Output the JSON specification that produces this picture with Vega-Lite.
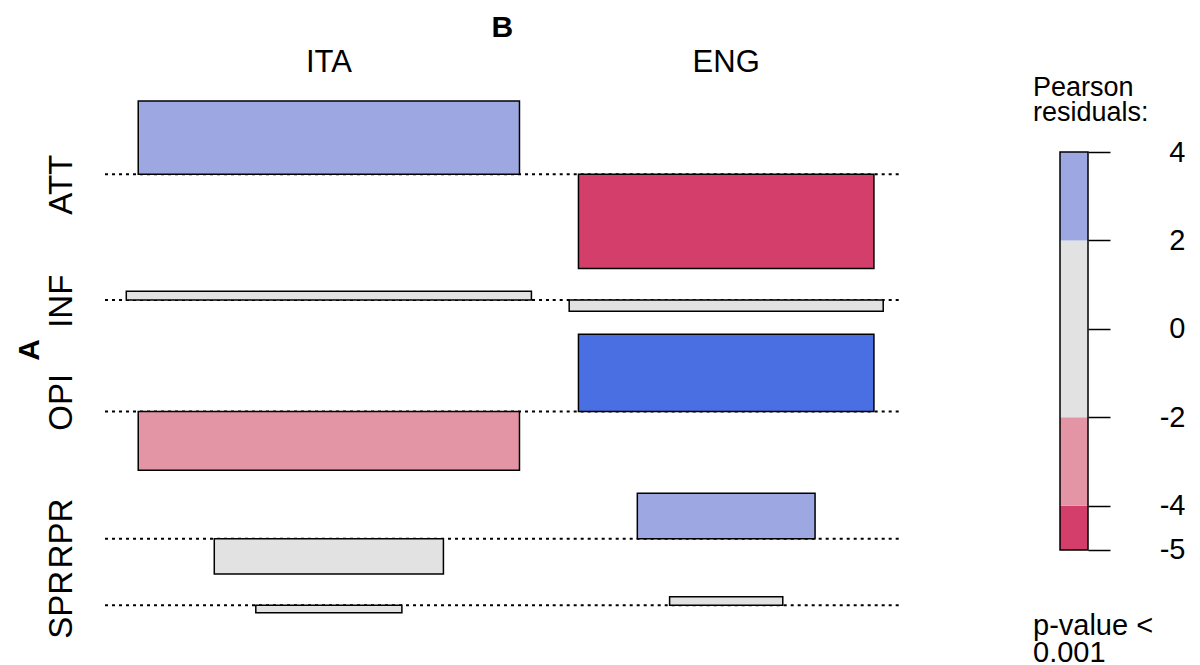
{
  "$schema": "https://vega.github.io/schema/vega-lite/v6.json",
  "padding": 0,
  "autosize": {"type": "pad"},
  "bounds": "flush",
  "spacing": 60,
  "config": {"view": {"stroke": null}, "font": "Liberation Sans"},
  "hconcat": [
    {
      "width": 1000,
      "height": 665,
      "data": {
        "values": [
          {"A": "ATT", "ai": 1, "B": "ITA", "bi": 1, "residual": 3.86, "expected": 68.1},
          {"A": "ATT", "ai": 1, "B": "ENG", "bi": 2, "residual": -4.95, "expected": 40.9},
          {"A": "INF", "ai": 2, "B": "ITA", "bi": 1, "residual": 0.46, "expected": 76.9},
          {"A": "INF", "ai": 2, "B": "ENG", "bi": 2, "residual": -0.6, "expected": 46.2},
          {"A": "OPI", "ai": 3, "B": "ITA", "bi": 1, "residual": -3.1, "expected": 68.1},
          {"A": "OPI", "ai": 3, "B": "ENG", "bi": 2, "residual": 4.07, "expected": 40.9},
          {"A": "RPR", "ai": 4, "B": "ITA", "bi": 1, "residual": -1.85, "expected": 24.6},
          {"A": "RPR", "ai": 4, "B": "ENG", "bi": 2, "residual": 2.4, "expected": 14.8},
          {"A": "SPR", "ai": 5, "B": "ITA", "bi": 1, "residual": -0.4, "expected": 10.0},
          {"A": "SPR", "ai": 5, "B": "ENG", "bi": 2, "residual": 0.45, "expected": 6.0}
        ]
      },
      "transform": [
        {"calculate": "sqrt(datum.expected)", "as": "sw"},
        {"joinaggregate": [{"op": "max", "field": "sw", "as": "colMax"}, {"op": "count", "as": "nInCol"}], "groupby": ["B"]},
        {"calculate": "datum.colMax * 1.105", "as": "cellW"},
        {"calculate": "datum.cellW / datum.nInCol", "as": "colShare"},
        {"window": [{"op": "sum", "field": "colShare", "as": "cellEnd"}], "sort": [{"field": "bi", "order": "ascending"}], "frame": [null, 0]},
        {"calculate": "datum.cellEnd - datum.cellW", "as": "cellStart"},
        {"calculate": "datum.cellStart + datum.cellW / 2", "as": "xc"},
        {"calculate": "datum.xc - datum.sw / 2", "as": "x1"},
        {"calculate": "datum.xc + datum.sw / 2", "as": "x2"},
        {"calculate": "max(datum.residual, 0)", "as": "pos"},
        {"calculate": "min(datum.residual, 0)", "as": "neg"},
        {"joinaggregate": [{"op": "max", "field": "pos", "as": "rowMax"}, {"op": "min", "field": "neg", "as": "rowMin"}, {"op": "count", "as": "nInRow"}], "groupby": ["A"]},
        {"calculate": "datum.rowMax - datum.rowMin + 1.2", "as": "rowSpan"},
        {"calculate": "datum.rowSpan / datum.nInRow", "as": "rowShare"},
        {"window": [{"op": "sum", "field": "rowShare", "as": "rowEnd"}], "sort": [{"field": "ai", "order": "ascending"}], "frame": [null, 0]},
        {"calculate": "datum.rowEnd - datum.rowSpan", "as": "rowStart"},
        {"calculate": "-(datum.rowStart + datum.rowMax)", "as": "base"},
        {"calculate": "datum.base + datum.residual", "as": "top"},
        {"calculate": "-(datum.rowStart + (datum.rowMax - datum.rowMin) / 2)", "as": "rowMid"}
      ],
      "layer": [
        {
          "mark": {"type": "rule", "strokeDash": [3, 4], "strokeWidth": 2, "color": "#000000"},
          "encoding": {
            "x": {"field": "cellStart", "type": "quantitative", "scale": {"domain": [-2.273, 19.372], "nice": false, "zero": false}, "axis": null},
            "x2": {"field": "cellEnd"},
            "y": {"field": "base", "type": "quantitative", "scale": {"domain": [-29.684, 5.316], "nice": false, "zero": false}, "axis": null}
          }
        },
        {
          "mark": {"type": "rect", "stroke": "#000000", "strokeWidth": 1.5},
          "encoding": {
            "x": {"field": "x1", "type": "quantitative"},
            "x2": {"field": "x2"},
            "y": {"field": "base", "type": "quantitative"},
            "y2": {"field": "top"},
            "color": {
              "field": "residual",
              "type": "quantitative",
              "scale": {"type": "threshold", "domain": [-4, -2, 2, 4], "range": ["#D33F6A", "#E495A5", "#E2E2E2", "#9DA8E2", "#4A6FE3"]},
              "legend": null
            }
          }
        },
        {
          "transform": [{"filter": "datum.ai == 1"}],
          "mark": {"type": "text", "fontSize": 31, "baseline": "middle", "align": "center", "color": "#000000"},
          "encoding": {
            "x": {"field": "xc", "type": "quantitative"},
            "y": {"datum": 2.0},
            "text": {"field": "B"}
          }
        },
        {
          "transform": [{"filter": "datum.bi == 1"}],
          "mark": {"type": "text", "fontSize": 33, "baseline": "middle", "align": "center", "angle": 270, "color": "#000000"},
          "encoding": {
            "x": {"datum": -0.93},
            "y": {"field": "rowMid", "type": "quantitative"},
            "text": {"field": "A"}
          }
        },
        {
          "transform": [{"filter": "datum.ai == 1 && datum.bi == 1"}],
          "mark": {"type": "text", "fontSize": 30, "fontWeight": "bold", "baseline": "middle", "align": "center", "color": "#000000"},
          "encoding": {
            "x": {"datum": 8.6},
            "y": {"datum": 3.84},
            "text": {"value": "B"}
          }
        },
        {
          "transform": [{"filter": "datum.ai == 1 && datum.bi == 1"}],
          "mark": {"type": "text", "fontSize": 30, "fontWeight": "bold", "baseline": "middle", "align": "center", "angle": 270, "color": "#000000"},
          "encoding": {
            "x": {"datum": -1.62},
            "y": {"datum": -13.1},
            "text": {"value": "A"}
          }
        }
      ]
    },
    {
      "width": 28,
      "height": 665,
      "data": {
        "values": [
          {"from": -5, "to": -4},
          {"from": -4, "to": -2},
          {"from": -2, "to": 2},
          {"from": 2, "to": 4}
        ]
      },
      "layer": [
        {
          "mark": {"type": "rect"},
          "encoding": {
            "x": {"datum": 0, "scale": {"domain": [0, 1], "nice": false, "zero": false}, "axis": null},
            "x2": {"datum": 1},
            "y": {
              "field": "from",
              "type": "quantitative",
              "scale": {"domain": [-7.602, 7.439], "nice": false, "zero": false},
              "axis": {
                "orient": "right",
                "values": [4, 2, 0, -2, -4, -5],
                "labelExpr": "'' + datum.value",
                "domain": false,
                "grid": false,
                "title": null,
                "tickSize": 22,
                "tickWidth": 1.5,
                "tickColor": "#000000",
                "labelFontSize": 29,
                "labelColor": "#000000",
                "labelAlign": "right",
                "labelBaseline": "middle",
                "labelPadding": 75,
                "labelFont": "Liberation Sans"
              }
            },
            "y2": {"field": "to"},
            "color": {
              "field": "from",
              "type": "quantitative",
              "scale": {"type": "threshold", "domain": [-4, -2, 2, 4], "range": ["#D33F6A", "#E495A5", "#E2E2E2", "#9DA8E2", "#4A6FE3"]},
              "legend": null
            }
          }
        },
        {
          "transform": [{"filter": "datum.from == -5"}],
          "mark": {"type": "rect", "fill": null, "fillOpacity": 0, "stroke": "#000000", "strokeWidth": 1.5},
          "encoding": {
            "x": {"datum": 0},
            "x2": {"datum": 1},
            "y": {"datum": -5},
            "y2": {"datum": 4}
          }
        },
        {
          "transform": [{"filter": "datum.from == -5"}],
          "mark": {"type": "text", "fontSize": 27, "align": "left", "baseline": "middle", "color": "#000000"},
          "encoding": {
            "x": {"datum": -0.964},
            "y": {"datum": 5.45},
            "text": {"value": "Pearson"}
          }
        },
        {
          "transform": [{"filter": "datum.from == -5"}],
          "mark": {"type": "text", "fontSize": 27, "align": "left", "baseline": "middle", "color": "#000000"},
          "encoding": {
            "x": {"datum": -0.964},
            "y": {"datum": 4.88},
            "text": {"value": "residuals:"}
          }
        },
        {
          "transform": [{"filter": "datum.from == -5"}],
          "mark": {"type": "text", "fontSize": 29, "align": "left", "baseline": "middle", "color": "#000000"},
          "encoding": {
            "x": {"datum": -0.964},
            "y": {"datum": -6.72},
            "text": {"value": "p-value <"}
          }
        },
        {
          "transform": [{"filter": "datum.from == -5"}],
          "mark": {"type": "text", "fontSize": 29, "align": "left", "baseline": "middle", "color": "#000000"},
          "encoding": {
            "x": {"datum": -0.964},
            "y": {"datum": -7.33},
            "text": {"value": "0.001"}
          }
        }
      ],
      "resolve": {"scale": {"color": "independent"}}
    }
  ],
  "resolve": {"scale": {"color": "independent"}}
}
